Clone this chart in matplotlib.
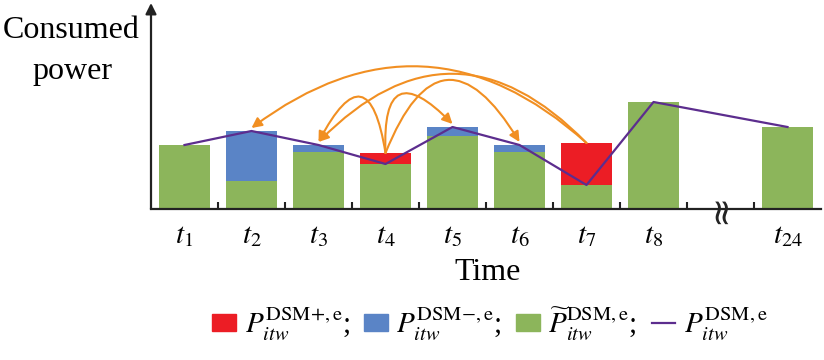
import matplotlib
matplotlib.use("Agg")
import matplotlib.pyplot as plt
from matplotlib.patches import Patch
from matplotlib.lines import Line2D

plt.rcParams['mathtext.fontset'] = 'stix'
plt.rcParams['font.family'] = ['Liberation Serif', 'DejaVu Serif']

# ---- data (arbitrary power units) ----
tick_labels = ['$t_1$', '$t_2$', '$t_3$', '$t_4$', '$t_5$', '$t_6$', '$t_7$', '$t_8$', '$t_{24}$']
positions = [0, 1, 2, 3, 4, 5, 6, 7, 9]
green_vals = [64, 28, 57, 45, 73, 57, 24, 107, 82]   # P~ DSM,e
blue_vals = [0, 50, 7, 0, 9, 7, 0, 0, 0]             # P DSM-,e
red_vals = [0, 0, 0, 11, 0, 0, 42, 0, 0]             # P DSM+,e
line_vals = [64, 78, 64, 45, 82, 64, 24, 107, 82]    # P DSM,e
# shifted load: (source index, destination index, curvature)
shifts = [(6, 1, 0.41), (6, 2, 0.51), (3, 2, 1.5), (3, 4, -1.3), (3, 5, -1.0)]

c_green = '#8CB55B'
c_blue = '#5A84C6'
c_red = '#EC1D25'
c_line = '#5C2D8E'
c_arrow = '#F18F22'
c_axis = '#222222'

fig = plt.figure(figsize=(8.24, 3.6), dpi=100)
ax = fig.add_axes([151/824, (360-209)/360, (821-151)/824, (209-3)/360])
ax.set_xlim(-0.5, 9.5)
ax.set_ylim(0, 206)

w = 0.76
ax.bar(positions, green_vals, width=w, color=c_green, zorder=2)
ax.bar(positions, blue_vals, width=w, bottom=green_vals, color=c_blue, zorder=2)
ax.bar(positions, red_vals, width=w, bottom=green_vals, color=c_red, zorder=2)
ax.plot(positions, line_vals, color=c_line, lw=1.6, zorder=3)

for s, d, rad in shifts:
    xs = positions[s]
    ys = green_vals[s] + red_vals[s]
    xd = positions[d]
    yd = line_vals[d] + 3
    ax.annotate('', xy=(xd, yd), xytext=(xs, ys),
                arrowprops=dict(arrowstyle='-|>', color=c_arrow, lw=1.5,
                                mutation_scale=15, shrinkA=0, shrinkB=0,
                                connectionstyle=f'arc3,rad={rad}'),
                zorder=4)

# axes styling
for sp in ['top', 'right', 'left']:
    ax.spines[sp].set_visible(False)
ax.spines['bottom'].set_color(c_axis)
ax.spines['bottom'].set_linewidth(1.6)
ax.annotate('', xy=(0, 1.0), xytext=(0, 0), xycoords='axes fraction',
            arrowprops=dict(arrowstyle='-|>', color=c_axis, lw=1.6,
                            mutation_scale=16, shrinkA=0, shrinkB=0))
ax.set_yticks([])
ax.set_xticks(positions)
ax.set_xticklabels(tick_labels, fontsize=21)
ax.tick_params(axis='x', which='major', length=0, pad=10)
ax.set_xticks([p + 0.5 for p in range(9)], minor=True)
ax.tick_params(axis='x', which='minor', direction='in', length=5, width=1.5, color=c_axis)
# axis break marker
ax.text(8, 0, '≈', rotation=90, ha='center', va='center', fontsize=26,
        color=c_axis, family='DejaVu Sans', zorder=5)

fig.text(71/824, 1 - 31/360, 'Consumed', ha='center', va='center', fontsize=23)
fig.text(72/824, 1 - 71/360, 'power', ha='center', va='center', fontsize=23)
fig.text(488/824, 1 - 273/360, 'Time', ha='center', va='center', fontsize=23)

handles = [Patch(color=c_red), Patch(color=c_blue), Patch(color=c_green),
           Line2D([], [], color=c_line, lw=1.6)]
labels = [r'$P_{itw}^{\mathrm{DSM{+},e}}$;', r'$P_{itw}^{\mathrm{DSM{-},e}}$;',
          r'$\widetilde{P}_{itw}^{\mathrm{DSM,e}}$;', r'$P_{itw}^{\mathrm{DSM,e}}$']
fig.legend(handles, labels, loc='center', bbox_to_anchor=(490/824, 1 - 324/360),
           ncol=4, frameon=False, fontsize=21, handlelength=0.8, handleheight=0.55,
           handletextpad=0.3, columnspacing=0.5)

fig.savefig('out.png', dpi=100)
